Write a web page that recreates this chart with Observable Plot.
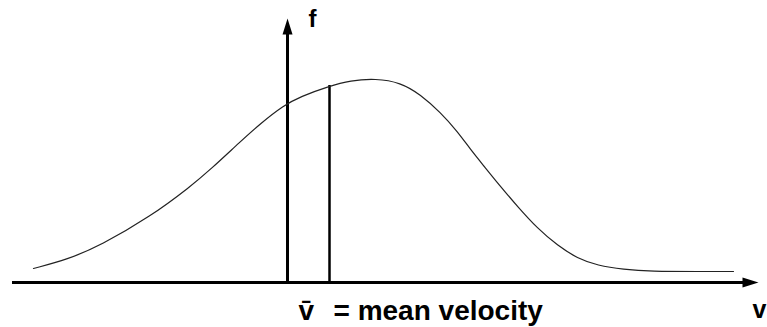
<!DOCTYPE html>
<html><head><meta charset="utf-8">
<script src="https://cdn.jsdelivr.net/npm/d3@7"></script>
<script src="https://cdn.jsdelivr.net/npm/@observablehq/plot@0.6"></script>
<style>html,body{margin:0;padding:0;background:#fff} svg{display:block}</style>
</head><body><div id="chart"></div>
<script>
// Distribution f(v) (arbitrary units; f-axis at v = 0)
const velocity = [-25.4,-22.0,-18.7,-13.7,-9.7,-7.7,-4.7,-2.7,-0.4,1.3,4.1,6.3,8.8,11.3,13.3,15.3,17.0,18.3,19.6,21.3,23.0,25.0,27.0,29.0,31.0,33.6,36.3,41.3,44.6];
const density  = [1.4,2.3,3.7,6.6,9.6,11.3,14.1,15.9,17.7,18.6,19.6,20.2,20.4,20.0,18.8,17.0,15.1,13.3,11.7,9.6,7.6,5.4,3.7,2.4,1.7,1.3,1.1,1.1,1.1];
const meanVelocity = 4.2;
const densityAtMean = 19.7;
const vAxisStart = -27.5, vAxisTip = 47.1;
const fAxisTip = 26.4;
const fLabel = "f", vLabel = "v";
const meanSymbol = "v\u0304", meanText = "= mean velocity";

const curve = velocity.map((v, i) => ({v, f: density[i]}));

const headLen = 16, headW = 10;
const arrowHead = {
  draw(ctx) {
    ctx.moveTo(0, 0);
    ctx.lineTo(headW / 2, headLen);
    ctx.lineTo(-headW / 2, headLen);
    ctx.closePath();
  }
};
const font = "Liberation Sans, Arial, Helvetica, sans-serif";

const chart = Plot.plot({
  width: 767, height: 327,
  marginTop: 0, marginRight: 0, marginBottom: 0, marginLeft: 0,
  x: {domain: [-28.7, 48], range: [0, 767], axis: null},
  y: {domain: [-4.5, 28.2], range: [327, 0], axis: null},
  style: {fontFamily: font, background: "#fff"},
  marks: [
    // horizontal v axis
    Plot.ruleY([0], {x1: vAxisStart, x2: vAxisTip - 1.4, stroke: "#000", strokeWidth: 3}),
    Plot.dot([{v: vAxisTip, f: 0}], {x: "v", y: "f", symbol: arrowHead, rotate: 90, fill: "#000", stroke: "none"}),
    // vertical f axis
    Plot.ruleX([0], {y1: 0, y2: fAxisTip - 1.2, stroke: "#000", strokeWidth: 3}),
    Plot.dot([{v: 0, f: fAxisTip}], {x: "v", y: "f", symbol: arrowHead, fill: "#000", stroke: "none"}),
    // mean velocity line
    Plot.ruleX([meanVelocity], {y1: 0, y2: densityAtMean, stroke: "#000", strokeWidth: 2.5}),
    // distribution curve
    Plot.line(curve, {x: "v", y: "f", curve: "basis", stroke: "#222", strokeWidth: 1.2}),
    // labels
    Plot.text([fLabel], {x: 2.1, y: 26.3, text: d => d, textAnchor: "start", lineAnchor: "middle", fontSize: 24, fontWeight: 900, fill: "#000"}),
    Plot.text([vLabel], {x: 46.5, y: -3.5, text: d => d, textAnchor: "start", lineAnchor: "bottom", fontSize: 25, fontWeight: "bold", fill: "#000"}),
    Plot.text([meanSymbol], {x: 1.1, y: -3.7, text: d => d, textAnchor: "start", lineAnchor: "bottom", fontSize: 28, fontWeight: "bold", fill: "#000"}),
    Plot.text([meanText], {x: 4.6, y: -3.7, text: d => d, textAnchor: "start", lineAnchor: "bottom", fontSize: 28, fontWeight: "bold", fill: "#000"})
  ]
});
document.getElementById("chart").appendChild(chart);
</script>
</body></html>
